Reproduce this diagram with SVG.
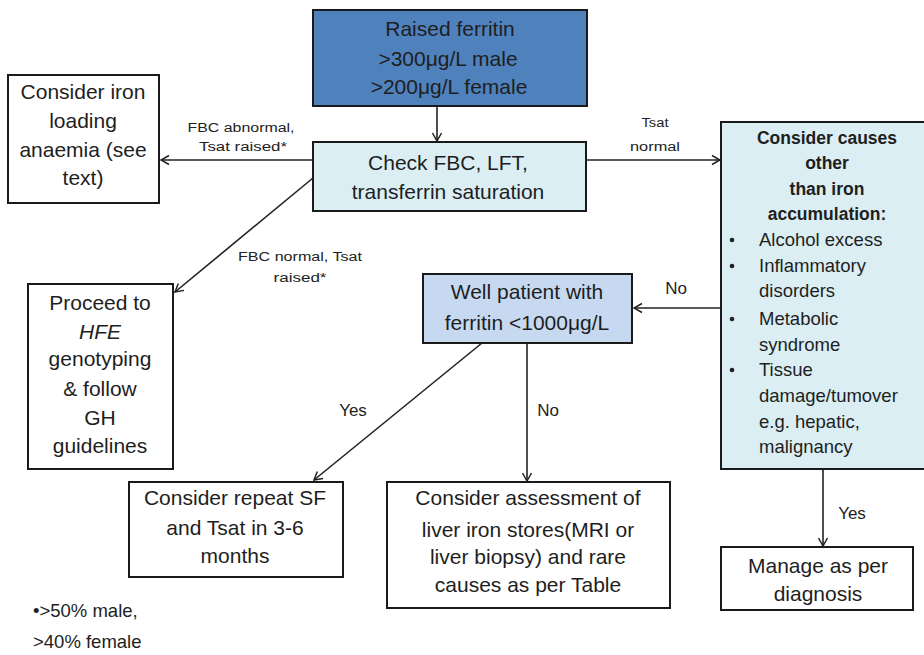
<svg xmlns="http://www.w3.org/2000/svg" width="924" height="655" viewBox="0 0 924 655">
<defs>
<marker id="arr" viewBox="0 0 12 12" refX="11" refY="6" markerWidth="12" markerHeight="12" markerUnits="userSpaceOnUse" orient="auto">
<path d="M3,1.5 L11,6 L3,10.5" fill="none" stroke="#222" stroke-width="1.5"/>
</marker>
</defs>
<style>
.box{stroke:#1a1a1a;stroke-width:2}
.t{font-family:"Liberation Sans",Arial,sans-serif;font-size:21px;fill:#1e1e1e;text-anchor:middle}
.tl{font-family:"Liberation Sans",Arial,sans-serif;font-size:18.5px;fill:#1e1e1e}
.b{font-family:"Liberation Sans",Arial,sans-serif;font-size:17.5px;font-weight:bold;fill:#1e1e1e;text-anchor:middle}
.s{font-family:"Liberation Sans",Arial,sans-serif;font-size:12.5px;fill:#222;text-anchor:middle}
.m{font-family:"Liberation Sans",Arial,sans-serif;font-size:17px;fill:#1e1e1e;text-anchor:middle}
.c{stroke:#222;stroke-width:1.6;fill:none;marker-end:url(#arr)}
</style>
<rect width="924" height="655" fill="#fff"/>
<g id="connectors">
<line class="c" x1="437" y1="106" x2="437" y2="141"/>
<line class="c" x1="313" y1="160" x2="161" y2="160"/>
<line class="c" x1="586" y1="160" x2="720" y2="160"/>
<line class="c" x1="313" y1="178" x2="175" y2="292"/>
<line class="c" x1="721" y1="308" x2="634" y2="308"/>
<line class="c" x1="482" y1="343" x2="314" y2="480"/>
<line class="c" x1="527" y1="343" x2="527" y2="481"/>
<line class="c" x1="823" y1="469" x2="823" y2="546"/>
<text class="s" x="241" y="132" textLength="107" lengthAdjust="spacingAndGlyphs">FBC abnormal,</text>
<text class="s" x="243" y="151" textLength="88" lengthAdjust="spacingAndGlyphs">Tsat raised*</text>
<text class="s" x="655" y="127" textLength="27" lengthAdjust="spacingAndGlyphs">Tsat</text>
<text class="s" x="655" y="151" textLength="50" lengthAdjust="spacingAndGlyphs">normal</text>
<text class="s" x="300" y="261" textLength="124" lengthAdjust="spacingAndGlyphs">FBC normal,  Tsat</text>
<text class="s" x="300" y="282" textLength="53" lengthAdjust="spacingAndGlyphs">raised*</text>
<text class="m" x="676" y="294">No</text>
<text class="m" x="353" y="416">Yes</text>
<text class="m" x="548" y="416">No</text>
<text class="m" x="852" y="519">Yes</text>
</g>
<g id="n-raised">
<rect class="box" x="313" y="10" width="274" height="96" fill="#4F81BD"/>
<text class="t" x="450" y="36">Raised ferritin</text>
<text class="t" x="448" y="66">&gt;300μg/L male</text>
<text class="t" x="449" y="94">&gt;200μg/L female</text>
</g>
<g id="n-check">
<rect class="box" x="313" y="142" width="273" height="69" fill="#DAEEF3"/>
<text class="t" x="448" y="170">Check FBC, LFT,</text>
<text class="t" x="448" y="199">transferrin saturation</text>
</g>
<g id="n-iron">
<rect class="box" x="8" y="75" width="151" height="128" fill="#fff"/>
<text class="t" x="83" y="99">Consider iron</text>
<text class="t" x="83" y="128">loading</text>
<text class="t" x="83" y="157">anaemia (see</text>
<text class="t" x="83" y="185">text)</text>
</g>
<g id="n-other">
<rect class="box" x="721" y="122" width="210" height="347" fill="#DAEEF3"/>
<text class="b" x="827" y="144">Consider causes</text>
<text class="b" x="827" y="169">other</text>
<text class="b" x="827" y="195">than iron</text>
<text class="b" x="827" y="220">accumulation:</text>
<circle cx="732" cy="240" r="2.3" fill="#222"/>
<circle cx="732" cy="266" r="2.3" fill="#222"/>
<circle cx="732" cy="319" r="2.3" fill="#222"/>
<circle cx="732" cy="370" r="2.3" fill="#222"/>
<text class="tl" x="759" y="246">Alcohol excess</text>
<text class="tl" x="759" y="272">Inflammatory</text>
<text class="tl" x="759" y="297">disorders</text>
<text class="tl" x="759" y="325">Metabolic</text>
<text class="tl" x="759" y="351">syndrome</text>
<text class="tl" x="759" y="376">Tissue</text>
<text class="tl" x="759" y="402">damage/tumover</text>
<text class="tl" x="759" y="428">e.g. hepatic,</text>
<text class="tl" x="759" y="453">malignancy</text>
</g>
<g id="n-proceed">
<rect class="box" x="28" y="284" width="145" height="185" fill="#fff"/>
<text class="t" x="100" y="310">Proceed to</text>
<text class="t" x="100" y="339" font-style="italic">HFE</text>
<text class="t" x="100" y="366">genotyping</text>
<text class="t" x="100" y="396">&amp; follow</text>
<text class="t" x="100" y="425">GH</text>
<text class="t" x="100" y="453">guidelines</text>
</g>
<g id="n-well">
<rect class="box" x="423" y="274" width="209" height="69" fill="#C6D9F1"/>
<text class="t" x="527" y="299">Well patient with</text>
<text class="t" x="527" y="330">ferritin &lt;1000μg/L</text>
</g>
<g id="n-repeat">
<rect class="box" x="129" y="482" width="214" height="95" fill="#fff"/>
<text class="t" x="235" y="505">Consider repeat SF</text>
<text class="t" x="235" y="535">and Tsat in 3-6</text>
<text class="t" x="235" y="563">months</text>
</g>
<g id="n-assess">
<rect class="box" x="387" y="482" width="283" height="126" fill="#fff"/>
<text class="t" x="528" y="505">Consider assessment of</text>
<text class="t" x="528" y="537">liver iron stores(MRI or</text>
<text class="t" x="528" y="564">liver biopsy) and rare</text>
<text class="t" x="528" y="592">causes as per Table</text>
</g>
<g id="n-manage">
<rect class="box" x="721" y="547" width="192" height="63" fill="#fff"/>
<text class="t" x="818" y="573">Manage as per</text>
<text class="t" x="818" y="601">diagnosis</text>
</g>
<g id="footnote">
<text class="tl" x="33" y="617">•&gt;50% male,</text>
<text class="tl" x="33" y="648">&gt;40% female</text>
</g>
</svg>
